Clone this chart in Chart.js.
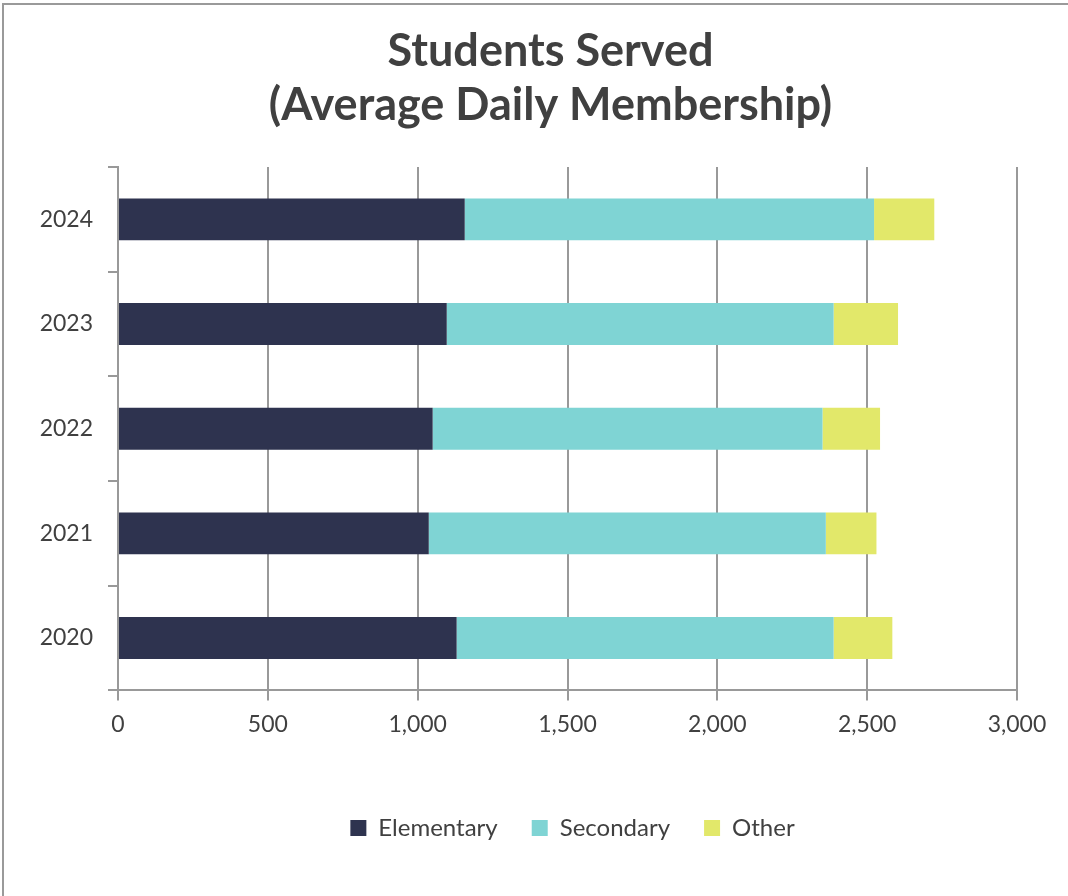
<!DOCTYPE html>
<html>
<head>
<meta charset="utf-8">
<script src="https://cdn.jsdelivr.net/npm/chart.js@4"></script>
<style>
  html, body { margin: 0; padding: 0; background: #fff; overflow: hidden; }
  #frame {
    position: absolute; left: 2px; top: 3px; width: 1100px; height: 1000px;
    border: 2px solid #9a9a9a; box-sizing: border-box;
  }
  #wrap { position: absolute; left: 0; top: 0; width: 1068px; height: 896px; }
</style>
</head>
<body>
<div id="frame"></div>
<div id="wrap"><canvas id="indice_alunos"></canvas></div>
<script>
const years = ["2020", "2021", "2022", "2023", "2024"];
const elementary = [1130, 1037, 1050, 1097, 1157];
const secondary = [1258, 1325, 1301, 1291, 1366];
const other = [196, 169, 192, 215, 201];
const xTicks = [0, 500, 1000, 1500, 2000, 2500, 3000];

// título e legenda ficam um pouco à direita do centro, como no original
const desloca = {
  id: "desloca",
  afterLayout(chart) {
    chart.titleBlock.left += 64;
    chart.legend.left += 108;
  },
};

const g_alunos = document.getElementById("indice_alunos");

new Chart(g_alunos, {
  type: "bar",
  data: {
    labels: years,
    datasets: [
      { label: "Elementary", data: elementary, backgroundColor: "#2e334f" },
      { label: "Secondary", data: secondary, backgroundColor: "#7fd4d4" },
      { label: "Other", data: other, backgroundColor: "#e2e86a" },
    ],
  },
  plugins: [desloca],
  options: {
    indexAxis: "y",
    responsive: true,
    maintainAspectRatio: false,
    animation: false,
    datasets: {
      bar: { categoryPercentage: 1, barPercentage: 0.4 },
    },
    layout: { padding: { left: 20, right: 51, top: 0, bottom: 46 } },
    plugins: {
      title: {
        display: true,
        text: ["Students Served", "(Average Daily Membership)"],
        color: "#404040",
        font: { family: "Lato", size: 45, weight: "bold" },
        padding: { top: 24, bottom: 35 },
        lineHeight: 1.4,
      },
      legend: {
        position: "bottom",
        labels: {
          color: "#404040",
          font: { family: "Lato", size: 24 },
          boxWidth: 16,
          boxHeight: 16,
          padding: 34,
        },
      },
      tooltip: { enabled: false },
    },
    scales: {
      x: {
        stacked: true,
        min: 0,
        max: 3000,
        afterBuildTicks: (s) => { s.ticks = xTicks.map((v) => ({ value: v })); },
        afterFit: (s) => { s.height += 34; },
        ticks: {
          color: "#404040",
          font: { family: "Lato", size: 23 },
          padding: 10,
          callback: (v) => v.toLocaleString("en-US"),
        },
        grid: { color: "#999", lineWidth: 2, tickLength: 10 },
        border: { color: "#999", width: 2 },
      },
      y: {
        stacked: true,
        reverse: true,
        afterFit: (s) => { s.width = 98; },
        ticks: {
          color: "#404040",
          font: { family: "Lato", size: 23 },
          padding: 15,
        },
        grid: { offset: true, drawOnChartArea: false, color: "#999", lineWidth: 2, tickLength: 10 },
        border: { color: "#999", width: 2 },
      },
    },
  },
});
</script>
</body>
</html>
